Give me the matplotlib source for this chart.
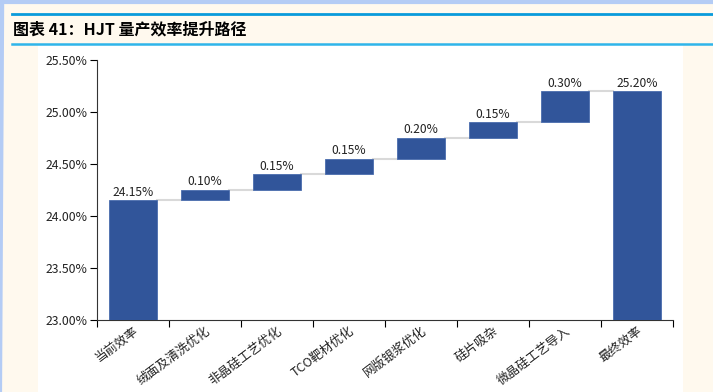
import numpy as np
import matplotlib
matplotlib.use('Agg')
import matplotlib.pyplot as plt
from matplotlib.patches import Rectangle
from matplotlib.lines import Line2D

plt.rcParams['font.family'] = ['Noto Sans CJK SC', 'DejaVu Sans']

# data
categories = ['当前效率', '绒面及清洗优化', '非晶硅工艺优化', 'TCO靶材优化',
              '网版银浆优化', '硅片吸杂', '微晶硅工艺导入', '最终效率']
start_eff = 24.15
steps = [0.10, 0.15, 0.15, 0.20, 0.15, 0.30]
final_eff = 25.20

BAR = '#31559A'
W, H = 713, 392

fig = plt.figure(figsize=(W / 100, H / 100), dpi=100, facecolor='#FFF9EE')

# page decorations
fig.patches.append(Rectangle((38 / W, 0), (683 - 38) / W, 1 - 45 / H,
                             transform=fig.transFigure, facecolor='white', edgecolor='none', zorder=-5))
fig.lines.append(Line2D([0, 0.003], [0, 1], transform=fig.transFigure, color='#B4CCF5', lw=3))
fig.lines.append(Line2D([0, 1], [0.996, 0.996], transform=fig.transFigure, color='#B4CCF5', lw=3))
fig.lines.append(Line2D([12 / W, 712 / W], [1 - 14 / H] * 2, transform=fig.transFigure, color='#0A9BDB', lw=2))
fig.lines.append(Line2D([12 / W, 712 / W], [1 - 44 / H] * 2, transform=fig.transFigure, color='#2FB5EA', lw=1.8))
fig.text(13 / W, 1 - 29 / H, '图表 41：HJT 量产效率提升路径', fontsize=11.5, fontweight='heavy',
         style='italic', va='center', ha='left', color='black')

ax = fig.add_axes([97 / W, 1 - 320 / H, (673 - 97) / W, (320 - 60) / H])
ax.set_facecolor('none')
ax.set_zorder(5)

n = len(categories)
x = np.arange(n)
bottoms = [23.0]
heights = [start_eff - 23.0]
level = start_eff
for s in steps:
    bottoms.append(level)
    heights.append(s)
    level += s
bottoms.append(23.0)
heights.append(final_eff - 23.0)
tops = [b + h for b, h in zip(bottoms, heights)]

bw = 0.66
ax.bar(x, heights, bottom=bottoms, width=bw, color=BAR, edgecolor='#4A6DAE', linewidth=0.6, zorder=3)

# connectors
for i in range(n - 1):
    ax.plot([x[i] + bw / 2, x[i + 1] - bw / 2], [tops[i], tops[i]], color='#D9D9D9', lw=1.5, zorder=2)

labels = ['%.2f%%' % start_eff] + ['%.2f%%' % s for s in steps] + ['%.2f%%' % final_eff]
for i in range(n):
    ax.text(x[i], tops[i] + 0.015, labels[i], ha='center', va='bottom', fontsize=8.7, color='#222222')

ax.set_xlim(-0.5, n - 0.5)
ax.set_ylim(23.0, 25.5)
ax.set_yticks(np.arange(23.0, 25.51, 0.5))
ax.set_yticklabels(['%.2f%%' % v for v in np.arange(23.0, 25.51, 0.5)], fontsize=8.8, color='#222222')
ax.set_xticks(np.arange(-0.5, n, 1.0))
ax.set_xticklabels([])
ax.set_xticks(x, minor=True)
ax.set_xticklabels(categories, minor=True, rotation=37, ha='right', rotation_mode='anchor',
                   fontsize=9, color='#222222')
ax.tick_params(axis='x', which='major', length=5, width=0.8, direction='out')
ax.tick_params(axis='x', which='minor', length=0, pad=3)
ax.tick_params(axis='y', length=5, width=0.8, direction='out', pad=2)
for s in ['top', 'right']:
    ax.spines[s].set_visible(False)
for s in ['left', 'bottom']:
    ax.spines[s].set_color('#333333')
    ax.spines[s].set_linewidth(0.8)

fig.savefig('out.png', dpi=100, facecolor=fig.get_facecolor())
